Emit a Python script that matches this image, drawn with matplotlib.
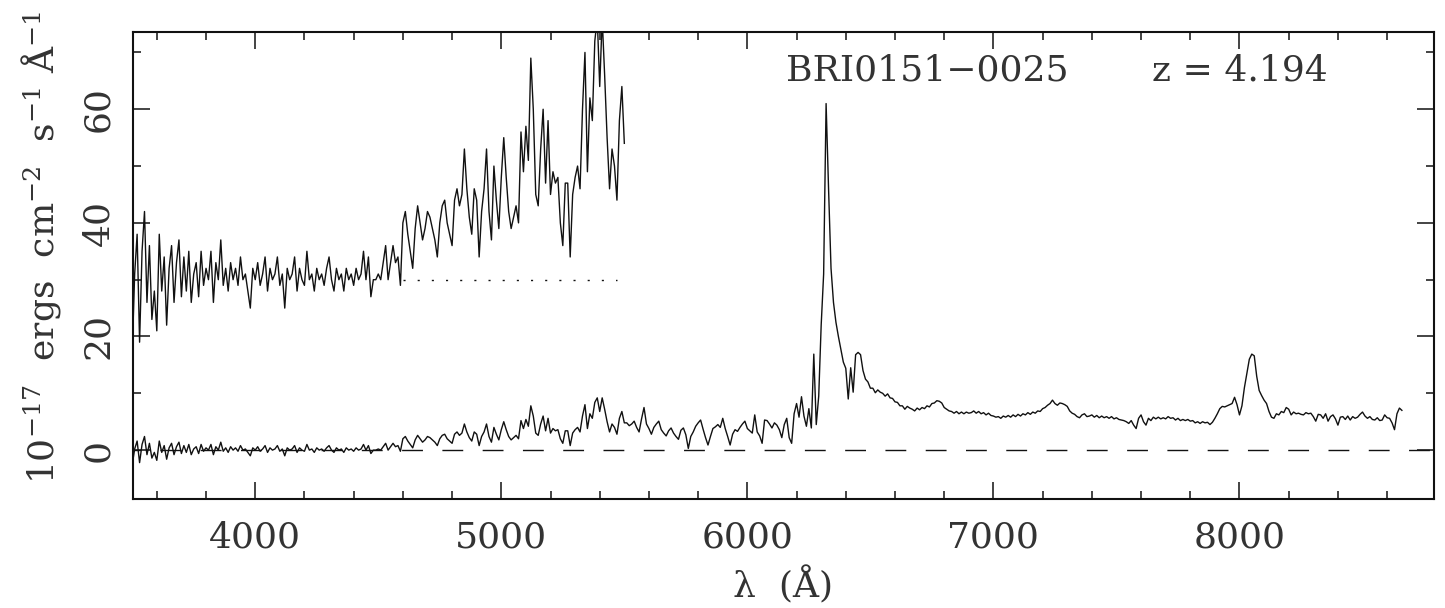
import numpy as np
import matplotlib
matplotlib.use("Agg")
import matplotlib.pyplot as plt
from matplotlib.ticker import MultipleLocator

BLUE_START = 3500
STEP = 10
boosted_blue = [
    17, 31, 38, 19, 35, 42, 26, 36, 23, 28,
    21, 38, 28, 34, 22, 32, 36, 26, 33, 37,
    27, 34, 28, 35, 26, 31, 33, 27, 35, 29,
    32, 30, 35, 26, 33, 30, 37, 29, 32, 28,
    33, 30, 32, 29, 34, 30, 31, 28, 25, 32,
    30, 33, 29, 31, 34, 28, 32, 30, 31, 34,
    29, 31, 25, 32, 30, 31, 34, 28, 32, 30,
    29, 35, 30, 31, 28, 32, 30, 31, 29, 32,
    34, 30, 28, 32, 30, 31, 28, 32, 30, 31,
    29, 32, 30, 31, 35, 30, 34, 27, 30, 30,
    31, 30, 33, 36, 30, 33, 36, 33, 34, 29,
    40, 42, 38, 35, 32, 39, 43, 40, 37, 39,
    42, 41, 39, 37, 34, 40, 43, 44, 40, 38,
    36, 44, 46, 43, 45, 53, 46, 41, 38, 46,
    44, 34, 42, 46, 53, 42, 37, 50, 44, 39,
    48, 55, 48, 42, 39, 41, 43, 40, 56, 49,
    57, 51, 69, 60, 45, 43, 53, 60, 47, 58,
    45, 49, 47, 48, 40, 36, 47, 47, 34, 45,
    48, 50, 46, 60, 70, 49, 62, 58, 72, 76,
    64, 76, 66, 55, 46, 53, 50, 44, 58, 64,
    54,
]
BOOST = 5.0
BOOST_OFFSET = 30.0

# Red part, flux in 1e-17 erg/cm2/s/A, 5510-8660 A every 10 A
RED_START = 5510
red_flux = [
    4.8, 4.3, 4.6, 5.1, 4.0, 3.2, 5.5, 7.5, 4.6, 3.8,
    2.8, 4.0, 4.6, 5.1, 3.6, 3.0, 2.5, 3.4, 3.9, 3.0,
    2.4, 1.9, 3.5, 3.9, 2.7, 0.3, 2.4, 3.2, 4.2, 4.8,
    5.3, 3.7, 2.2, 0.9, 2.4, 3.8, 4.1, 4.5, 4.0, 5.6,
    3.8, 2.4, 0.9, 2.8, 3.6, 3.3, 4.0, 4.6, 5.1, 3.8,
    3.4, 3.0, 6.2, 3.2, 2.5, 1.2, 5.3, 5.2, 4.6, 3.9,
    4.8, 4.4, 3.6, 2.2, 4.5, 5.6, 2.2, 1.2, 6.4, 8.2,
    5.8, 9.4, 6.0, 4.2, 7.3, 3.9, 16.9, 4.5, 9.5, 22.0,
    31.0, 61.0, 46.0, 32.0, 26.0, 22.5, 20.0, 17.8, 15.5, 14.4,
    9.0, 14.5, 10.2, 16.8, 17.2, 16.8, 14.0, 12.5, 12.0, 10.9,
    10.9, 10.1, 10.6, 10.2, 10.0, 9.5, 9.9, 9.2, 9.1, 8.5,
    8.4, 7.8, 7.8, 7.2, 7.7, 7.4, 7.2, 6.9, 7.4, 7.1,
    7.5, 7.3, 7.8, 7.6, 8.2, 8.3, 8.7, 8.6, 8.3, 7.5,
    7.2, 6.9, 6.8, 6.5, 6.8, 6.4, 6.7, 6.4, 6.7, 6.5,
    6.6, 6.9, 6.5, 6.8, 6.4, 6.6, 6.2, 6.5, 6.1, 6.0,
    5.8, 5.9, 5.6, 6.0, 5.8, 6.1, 5.8, 6.2, 5.9, 6.3,
    6.0, 6.4, 6.2, 6.6, 6.3, 6.7, 6.5, 6.9, 6.8, 7.3,
    7.5, 7.9, 8.2, 8.8, 8.2, 7.9, 8.3, 8.2, 8.0, 7.7,
    6.9, 6.5, 6.3, 5.9, 5.7, 6.2, 6.4, 5.9, 6.0, 6.2,
    5.8, 6.1, 5.7, 6.0, 5.7, 5.9, 5.6, 5.9, 5.5, 5.7,
    5.4, 5.3, 5.2, 5.0, 4.7, 5.2, 4.4, 3.8, 5.6, 6.2,
    5.0, 4.4, 5.6, 5.2, 5.8, 5.5, 5.8, 5.5, 5.7, 5.5,
    5.9, 5.6, 5.7, 5.3, 5.6, 5.2, 5.4, 5.2, 5.4, 5.1,
    5.2, 4.8, 5.0, 4.7, 5.0, 4.8, 4.9, 4.5, 4.9, 5.6,
    6.4, 7.3, 7.7, 7.6, 7.8, 8.0, 8.2, 9.3, 8.0, 6.2,
    7.8, 11.0, 13.5, 16.0, 16.9, 16.6, 13.0, 10.5, 9.6, 8.8,
    8.2, 6.8, 5.8, 5.6, 6.4, 6.2, 6.8, 6.6, 7.5, 7.2,
    6.2, 6.7, 6.4, 6.5, 6.3, 6.2, 6.6, 6.4, 6.5, 5.9,
    5.1, 6.3, 6.2, 5.6, 6.4, 5.1, 5.9, 6.2, 5.5, 4.4,
    5.8, 5.9, 5.4, 6.0, 5.3, 5.9, 5.6, 5.8, 6.3, 6.7,
    6.0, 5.6, 5.9, 5.4, 5.3, 5.7, 5.2, 5.3, 6.2, 5.7,
    5.6, 4.8, 3.6, 6.4, 7.4, 7.0,
]

dotted_range = (4600, 5470)
object_name = "BRI0151\u22120025"
redshift_label = "z = 4.194"

plt.rcParams["font.family"] = ["DejaVu Serif"]
plt.rcParams["mathtext.fontset"] = "dejavuserif"
plt.rcParams["mathtext.default"] = "regular"

ink = "#111111"
text_color = "#333333"

blue_wave = BLUE_START + STEP * np.arange(len(boosted_blue))
blue_flux = (np.array(boosted_blue) - BOOST_OFFSET) / BOOST
red_wave = RED_START + STEP * np.arange(len(red_flux))
wave = np.concatenate([blue_wave, red_wave])
flux = np.concatenate([blue_flux, np.array(red_flux)])

fig = plt.figure(figsize=(14.45, 6.08), dpi=100)
ax = fig.add_axes([0.0920, 0.1793, 0.9003, 0.7681])

ax.axhline(0, color=ink, lw=1.0, ls=(9.6, (15, 14)))
ax.hlines(BOOST_OFFSET, *dotted_range, color=ink, lw=1.0, ls=(0, (1.5, 8.7)))
ax.plot(wave, flux, color=ink, lw=1.0)
ax.plot(blue_wave, boosted_blue, color=ink, lw=1.0)

ax.set_xlim(3503, 8790)
ax.set_ylim(-8.6, 73.6)
ax.xaxis.set_major_locator(MultipleLocator(1000))
ax.xaxis.set_minor_locator(MultipleLocator(200))
ax.yaxis.set_major_locator(MultipleLocator(20))
ax.yaxis.set_minor_locator(MultipleLocator(10))

ax.tick_params(which="both", direction="in", top=True, right=True, width=1.1, color=ink,
               labelcolor=text_color, labelsize=26)
ax.tick_params(which="major", length=12)
ax.tick_params(which="minor", length=6)
ax.tick_params(axis="x", which="major", pad=15.5)
ax.tick_params(axis="y", which="major", pad=13, labelrotation=90)
for lab in ax.get_yticklabels():
    lab.set_va("center")
for sp in ax.spines.values():
    sp.set_linewidth(1.5)
    sp.set_color(ink)

ax.text(0.502, 0.897, object_name, transform=ax.transAxes, fontsize=26,
        color=text_color, ha="left", va="baseline")
ax.text(0.9185, 0.897, redshift_label, transform=ax.transAxes, fontsize=26,
        color=text_color, ha="right", va="baseline")

ax.set_xlabel("\u03bb  (\u00c5)", fontsize=26, color=text_color)
ax.xaxis.set_label_coords(0.5, -0.1435)
ax.set_ylabel("$10^{-17}$  ergs  cm$^{-2}$  s$^{-1}$ \u00c5$^{-1}$", fontsize=26, color=text_color)
ax.yaxis.set_label_coords(-0.054, 0.5385)

fig.savefig("out.png", dpi=100)
plt.close(fig)
